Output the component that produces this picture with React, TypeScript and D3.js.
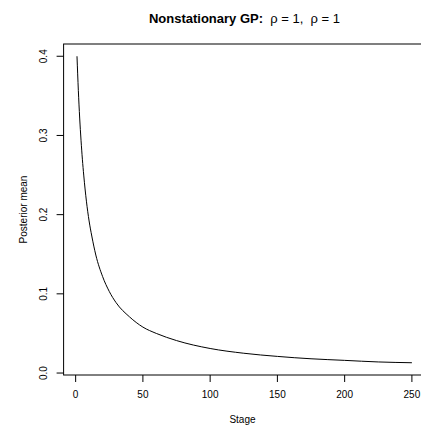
import * as d3 from "d3";
import React from "react";

// values
const stages = [1, 2, 3, 4, 5, 6, 8, 10, 12, 15, 20, 25, 30, 40, 50, 60, 75, 100, 125, 150, 175, 200, 225, 250];
const posteriorMean = [
  0.4, 0.357, 0.322, 0.294, 0.27, 0.25, 0.217, 0.192, 0.173, 0.149, 0.122, 0.103, 0.089, 0.071,
  0.058, 0.05, 0.041, 0.031, 0.025, 0.021, 0.018, 0.016, 0.014, 0.013,
];
const xTicks = [0, 50, 100, 150, 200, 250];
const yTicks = [0.0, 0.1, 0.2, 0.3, 0.4];

const width = 421;
const height = 429;
const marginLeft = 63.6;
const marginTop = 44;
const plotRight = 425.3;
const plotBottom = 375;
const font = "'Liberation Sans', Arial, Helvetica, sans-serif";

// R style 4% padding
function padded([lo, hi]: [number, number]): [number, number] {
  const p = (hi - lo) * 0.04;
  return [lo - p, hi + p];
}

export default function App() {
  const data = stages.map((s, i) => ({ x: s, y: posteriorMean[i] }));
  const xExt = d3.extent(stages) as [number, number];
  const yExt = d3.extent(posteriorMean) as [number, number];
  const xScale = d3.scaleLinear(padded(xExt), [marginLeft, plotRight]);
  const yScale = d3.scaleLinear(padded(yExt), [plotBottom, marginTop]);

  const line = d3
    .line<{ x: number; y: number }>()
    .x((d) => xScale(d.x))
    .y((d) => yScale(d.y))
    .curve(d3.curveMonotoneX);

  const midY = (marginTop + plotBottom) / 2;
  const midX = (marginLeft + plotRight) / 2;

  return (
    <div style={{ position: "fixed", left: 0, top: 0 }}>
      <svg width={width} height={height} style={{ display: "block", background: "white" }}>
        {/* title */}
        <text x={midX} y={23} textAnchor="middle" fontFamily={font} fontSize={13}>
          <tspan fontWeight="bold">Nonstationary GP:</tspan>
          <tspan>{"\u00a0 ρ = 1,\u00a0 ρ = 1"}</tspan>
        </text>

        {/* box */}
        <rect
          x={marginLeft}
          y={marginTop}
          width={plotRight - marginLeft}
          height={plotBottom - marginTop}
          fill="none"
          stroke="#000"
          strokeWidth={1}
        />

        {/* x-axis */}
        <g fontFamily={font} fontSize={10} textAnchor="middle">
          {xTicks.map((t) => (
            <g key={t} transform={`translate(${xScale(t)},0)`}>
              <line y1={plotBottom} y2={plotBottom + 7} stroke="#000" />
              <text y={398} fill="#000">
                {t}
              </text>
            </g>
          ))}
          <text x={midX - 2} y={423} fontSize={10}>
            Stage
          </text>
        </g>

        {/* y-axis */}
        <g fontFamily={font} fontSize={10} textAnchor="middle">
          {yTicks.map((t) => (
            <g key={t} transform={`translate(0,${yScale(t)})`}>
              <line x1={marginLeft} x2={marginLeft - 7} stroke="#000" />
              <text transform="translate(47,0) rotate(-90)" fill="#000">
                {t.toFixed(1)}
              </text>
            </g>
          ))}
          <text transform={`translate(27,${midY}) rotate(-90)`}>Posterior mean</text>
        </g>

        {/* curve */}
        <path d={line(data) ?? ""} fill="none" stroke="#000" strokeWidth={1} />
      </svg>
    </div>
  );
}
